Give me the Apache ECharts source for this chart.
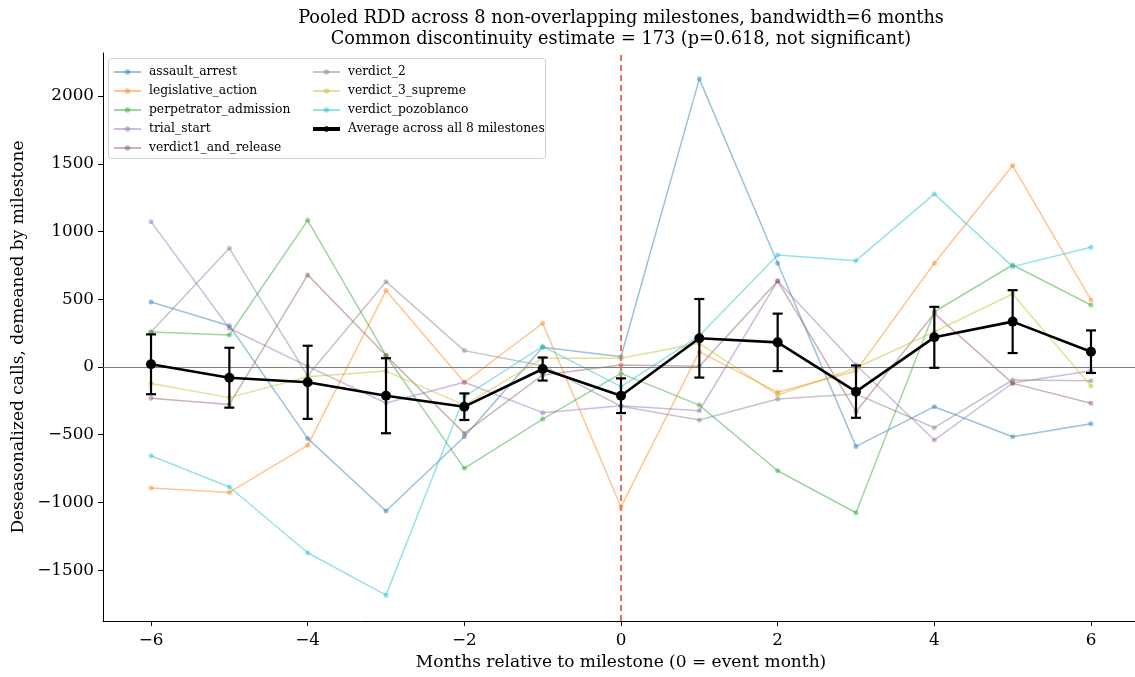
<!DOCTYPE html>
<html>
<head>
<meta charset="utf-8">
<script src="https://cdn.jsdelivr.net/npm/echarts@6/dist/echarts.min.js"></script>
<style>
html,body{margin:0;padding:0;background:#fff;}
#chart{width:1135px;height:677px;}
</style>
</head>
<body>
<div id="chart"></div>
<script>
// ---- data ----
const months = [-6, -5, -4, -3, -2, -1, 0, 1, 2, 3, 4, 5, 6];
const assault_arrest        = [480, 305, -527, -1063, -515, 145, 76, 2127, 766, -586, -293, -515, -419];
const legislative_action    = [-894, -926, -578, 564, -113, 323, -1032, 113, -187, -30, 766, 1487, 495];
const perpetrator_admission = [258, 236, 1083, 85, -748, -384, -47, -281, -766, -1076, 408, 753, 458];
const trial_start           = [1073, 286, 5, -266, -113, -337, -286, -323, 635, 15, -539, -118, -27];
const verdict1_and_release  = [-231, -276, 680, 85, -490, -59, 15, 5, 635, -330, 396, -121, -268];
const verdict_2             = [258, 876, -65, 630, 121, 10, -290, -391, -236, -199, -448, -96, -101];
const verdict_3_supreme     = [-121, -226, -72, -30, -281, 64, 64, 175, -207, -7, 260, 539, -140];
const verdict_pozoblanco    = [-655, -886, -1371, -1684, -219, 152, -145, 230, 827, 785, 1278, 741, 884];
const average               = [20, -79, -113, -212, -293, -15, -212, 212, 182, -182, 219, 335, 113];
const averageErr            = [221, 221, 270, 277, 98, 85, 128, 290, 212, 193, 225, 232, 157];

const seriesNames = ['assault_arrest', 'legislative_action', 'perpetrator_admission', 'trial_start',
  'verdict1_and_release', 'verdict_2', 'verdict_3_supreme', 'verdict_pozoblanco'];
const seriesValues = [assault_arrest, legislative_action, perpetrator_admission, trial_start,
  verdict1_and_release, verdict_2, verdict_3_supreme, verdict_pozoblanco];
const avgName = 'Average across all 8 milestones';
const xTicks = [-6, -4, -2, 0, 2, 4, 6];
const yTicks = [-1500, -1000, -500, 0, 500, 1000, 1500, 2000];
const titleLines = ['Pooled RDD across 8 non-overlapping milestones, bandwidth=6 months',
  'Common discontinuity estimate = 173 (p=0.618, not significant)'];
const xLabel = 'Months relative to milestone (0 = event month)';
const yLabel = 'Deseasonalized calls, demeaned by milestone';

// ---- styling ----
const colors = ['#1f77b4', '#ff7f0e', '#2ca02c', '#9467bd', '#8c564b', '#7f7f7f', '#bcbd22', '#17becf'];
const FONT = 'DejaVu Serif';
const ALPHA = 0.45;
const minus = v => String(v).replace('-', '\u2212');

const chart = echarts.init(document.getElementById('chart'), null, {renderer: 'canvas'});

const series = seriesNames.map((name, i) => ({
  name: name,
  type: 'line',
  data: months.map((m, j) => [m, seriesValues[i][j]]),
  symbol: 'circle',
  symbolSize: 5,
  showSymbol: true,
  color: colors[i],
  lineStyle: {width: 1.5, opacity: ALPHA, color: colors[i]},
  itemStyle: {opacity: ALPHA, color: colors[i]},
  emphasis: {disabled: true},
  z: 2 + i * 0.01,
  animation: false
}));

// reference lines
series.push({
  name: '_ref',
  type: 'line',
  data: [],
  markLine: {
    silent: true,
    symbol: ['none', 'none'],
    label: {show: false},
    animation: false,
    data: [
      {yAxis: 0, lineStyle: {color: '#808080', width: 1, type: 'solid'}},
      {xAxis: 0, lineStyle: {color: '#e8735c', width: 2, type: [6, 4]}}
    ]
  },
  z: 1,
  animation: false
});

// error bars
series.push({
  name: avgName + '_err',
  type: 'custom',
  data: months.map((m, j) => [m, average[j] - averageErr[j], average[j] + averageErr[j]]),
  renderItem: function (params, api) {
    const lo = api.coord([api.value(0), api.value(1)]);
    const hi = api.coord([api.value(0), api.value(2)]);
    const cw = 5;
    const st = {stroke: '#000', lineWidth: 2.2};
    return {
      type: 'group',
      children: [
        {type: 'line', shape: {x1: lo[0], y1: lo[1], x2: hi[0], y2: hi[1]}, style: st},
        {type: 'line', shape: {x1: lo[0] - cw, y1: lo[1], x2: lo[0] + cw, y2: lo[1]}, style: st},
        {type: 'line', shape: {x1: hi[0] - cw, y1: hi[1], x2: hi[0] + cw, y2: hi[1]}, style: st}
      ]
    };
  },
  encode: {x: 0, y: [1, 2]},
  z: 10,
  silent: true,
  animation: false
});

series.push({
  name: avgName,
  type: 'line',
  data: months.map((m, j) => [m, average[j]]),
  symbol: 'circle',
  symbolSize: 10,
  color: '#000',
  lineStyle: {width: 2.6, color: '#000'},
  itemStyle: {color: '#000'},
  emphasis: {disabled: true},
  z: 11,
  animation: false
});

const legendCommon = {
  orient: 'vertical', top: 65, padding: 0,
  itemWidth: 27, itemHeight: 7, itemGap: 5,
  textStyle: {fontFamily: FONT, fontSize: 12.3, lineHeight: 14, color: '#000', padding: [0, 0, 0, 3]},
  selectedMode: false,
  z: 20
};

const option = {
  backgroundColor: '#fff',
  animation: false,
  grid: {left: 103, top: 53, right: 0, height: 568, containLabel: false},
  xAxis: {
    type: 'value', min: -6.613, max: 6.562,
    axisLine: {show: true, onZero: false, lineStyle: {color: '#000', width: 1}},
    axisTick: {show: true, length: 5, lineStyle: {color: '#000'}, customValues: xTicks},
    axisLabel: {show: true, customValues: xTicks, formatter: minus, color: '#000',
      fontFamily: FONT, fontSize: 16.8, margin: 11},
    splitLine: {show: false}
  },
  yAxis: {
    type: 'value', min: -1875, max: 2318,
    axisLine: {show: true, onZero: false, lineStyle: {color: '#000', width: 1}},
    axisTick: {show: true, length: 5, lineStyle: {color: '#000'}, customValues: yTicks},
    axisLabel: {show: true, customValues: yTicks, formatter: minus, color: '#000',
      fontFamily: FONT, fontSize: 16.8, margin: 9},
    splitLine: {show: false}
  },
  legend: [
    Object.assign({}, legendCommon, {data: seriesNames.slice(0, 5), left: 113}),
    Object.assign({}, legendCommon, {
      data: seriesNames.slice(5).concat([{name: avgName, itemStyle: {color: '#000'}, lineStyle: {width: 4, color: '#000'}}]),
      left: 311
    })
  ],
  graphic: [
    {type: 'rect', left: 108, top: 58, z: 3,
      shape: {width: 437, height: 100, r: 3},
      style: {fill: 'rgba(255,255,255,0.85)', stroke: '#d0d0d0', lineWidth: 1}},
    {type: 'text', x: 621, y: 18, z: 100,
      style: {text: titleLines[0], fontFamily: FONT, fontSize: 17.7, fill: '#000', align: 'center', verticalAlign: 'middle'}},
    {type: 'text', x: 621, y: 39, z: 100,
      style: {text: titleLines[1], fontFamily: FONT, fontSize: 17.7, fill: '#000', align: 'center', verticalAlign: 'middle'}},
    {type: 'text', x: 621, y: 663, z: 100,
      style: {text: xLabel, fontFamily: FONT, fontSize: 17, fill: '#000', align: 'center', verticalAlign: 'middle'}},
    {type: 'text', x: 19, y: 337, rotation: Math.PI / 2, z: 100,
      style: {text: yLabel, fontFamily: FONT, fontSize: 17, fill: '#000', align: 'center', verticalAlign: 'middle'}}
  ],
  series: series
};
chart.setOption(option);
</script>
</body>
</html>
